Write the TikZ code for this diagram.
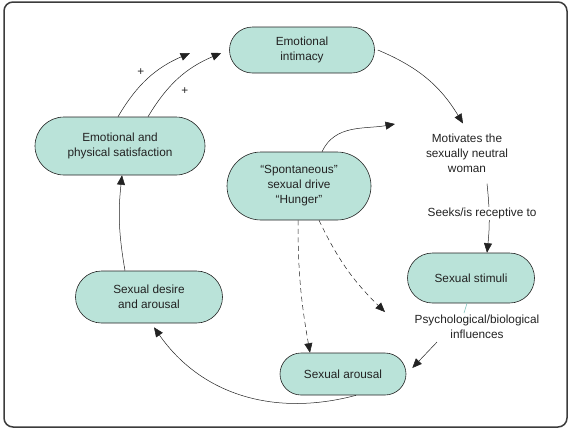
\documentclass[tikz,border=0pt]{standalone}
\usepackage{fontspec}
\setmainfont{Liberation Sans}
\usetikzlibrary{shapes.misc,arrows.meta}
\definecolor{pillfill}{HTML}{BAE3D9}
\definecolor{framegray}{HTML}{3C3C3C}
\definecolor{inkgray}{HTML}{222222}
\begin{document}
\begin{tikzpicture}[x=1pt, y=1pt, font=\fontsize{11.8}{15}\selectfont, text=inkgray,
    pill/.style={rounded rectangle, draw=inkgray, line width=0.6pt, fill=pillfill, align=center, inner sep=2pt},
    txt/.style={align=center, inner sep=2pt},
    arr/.style={-{Triangle[length=9.5pt,width=8pt]}, draw=inkgray, line width=0.5pt},
    dasharr/.style={arr, dash pattern=on 5pt off 3.5pt}]
    \useasboundingbox (0,0) rectangle (569,-429);
    \draw[framegray, line width=1.5pt, rounded corners=9pt] (4,-2) rectangle (567,-427);

    \node[pill, minimum width=149pt, minimum height=46pt] (intimacy) at (302,-50) {Emotional\\intimacy};
    \node[pill, minimum width=174pt, minimum height=58pt] (satisf) at (120,-146) {Emotional and\\physical satisfaction};
    \node[pill, minimum width=148pt, minimum height=68pt] (drive) at (299,-186) {“Spontaneous”\\sexual drive\\“Hunger”};
    \node[pill, minimum width=151pt, minimum height=52pt] (desire) at (149,-297) {Sexual desire\\and arousal};
    \node[pill, minimum width=131pt, minimum height=50pt] (stimuli) at (471,-278) {Sexual stimuli};
    \node[pill, minimum width=130pt, minimum height=42pt] (arousal) at (343,-374) {Sexual arousal};

    \node[txt] (motiv) at (467,-153) {Motivates the\\sexually neutral\\woman};
    \node[txt] (influ) at (477,-327) {Psychological/biological\\influences};

    \coordinate (plusend) at (190,-53);
    \coordinate (driveend) at (395,-124);
    \coordinate (dashend) at (385,-312);

    \draw[arr] ([xshift=3pt]intimacy.east) to[bend left=18] ([xshift=-4pt,yshift=8pt]motiv.north);
    \draw[arr] ([xshift=23pt]drive.north) to[out=65,in=190] (driveend);
    \draw[arr] ([xshift=-2pt]satisf.north) to[bend left=18] node[pos=0.45, xshift=-4pt, yshift=9pt] {+} (plusend);
    \draw[arr] ([xshift=28pt]satisf.north) to[bend left=18] node[pos=0.5, xshift=6pt, yshift=-13pt] {+} ([xshift=-8pt,yshift=-3pt]intimacy.west);
    \draw[arr] ([xshift=-24pt]desire.north) to[bend left=8] ([xshift=2pt]satisf.south);
    \draw[arr] ([xshift=13pt]arousal.south) to[out=195,in=-55] ([xshift=5pt,yshift=-4pt]desire.south);
    \draw[dasharr] ([xshift=-1pt]drive.south) to[out=-90,in=100] ([xshift=-33pt]arousal.north);
    \draw[dasharr] ([xshift=20pt]drive.south) to[bend right=10] (dashend);
    \draw[arr] ([xshift=20pt,yshift=-9pt]motiv.south) to[bend left=6] node[pos=0.42, fill=white, inner sep=1pt, xshift=-7pt] {Seeks/is receptive to} ([xshift=16pt]stimuli.north);
    \draw[arr] ([xshift=-40pt,yshift=-1pt]influ.south) -- ([xshift=6pt,yshift=6pt]arousal.east);
    \draw[pillfill!70!teal, line width=0.6pt] ([xshift=-4pt]stimuli.south) -- ([xshift=-13pt]influ.north);
\end{tikzpicture}
\end{document}
